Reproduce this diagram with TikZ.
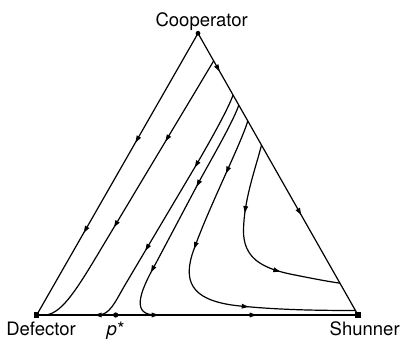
\documentclass[tikz,border=0pt]{standalone}
\usepackage{fontspec}
\setmainfont{TeX Gyre Heros}
\usetikzlibrary{arrows.meta,calc,decorations.markings}
\tikzset{
  flow/.style={postaction={decorate,decoration={markings,
    mark=at position #1 with {\arrow{Triangle[length=7pt,width=4.6pt]}}}}},
  vname/.style={anchor=base,inner sep=0pt,font=\fontsize{18.5}{20}\selectfont},
}
\begin{document}
\begin{tikzpicture}[x=1pt,y=-1pt,line width=1.2pt,line join=round]
\useasboundingbox (0,0) rectangle (401,339);
\coordinate (coop) at (198,33.3);
\coordinate (defect) at (36.7,315);
\coordinate (shun) at (358,315);
\coordinate (pstar) at (115.7,315);
\foreach \n/\t in {a0/.098,b0/.219,c0/.255,d0/.311,e0/.397,e1/.887,d1/.984}
  \coordinate (\n) at ($(coop)!\t!(shun)$);
\draw[flow=126pt,flow=230pt] (coop) -- (defect);
\draw[flow=44pt,flow=209pt] (coop) -- (shun);
\draw[flow=21pt] (pstar) -- (defect);
\draw[flow=43pt,flow=141pt] (pstar) -- (shun);
\draw[flow=94pt,flow=194pt] (a0) -- (98,254) .. controls (74,294) and (60,315) .. (44,315);
\draw[flow=82pt,flow=179pt] (b0) .. controls (228,110) and (205,150) .. (195,167)
  -- (125,285) .. controls (115,302) and (110,315) .. (98,315);
\draw[flow=92pt,flow=189pt] (c0) .. controls (233,122) and (212,158) .. (200,180)
  -- (156,263) .. controls (138,295) and (132,315) .. (156,315);
\draw[flow=57pt,flow=139pt,flow=239pt] (d0) .. controls (242,142) and (205,215) .. (192,255)
  .. controls (183,285) and (195,301.5) .. (240,306) .. controls (280,310) and (320,310.5) .. (d1);
\draw[flow=70pt,flow=148pt] (e0) .. controls (255,170) and (244,200) .. (243.5,230)
  .. controls (243,258) and (262,268) .. (290,274) .. controls (310,278) and (325,281) .. (e1);
\fill (coop) circle (2.4);
\fill (pstar) circle (2.6);
\fill ($(defect)+(-2.7,-2.7)$) rectangle ++(5.4,5.4);
\fill ($(shun)+(-2.7,-2.7)$) rectangle ++(5.4,5.4);
\node[vname] (coopname) at (201.7,26.7) {Cooperator};
\node[vname] (defectname) at (41,335) {Defector};
\node[vname] (pstarname) at (115.5,335) {\textit{p}\kern0.5pt*};
\node[vname] (shunname) at (364.7,335) {Shunner};
\end{tikzpicture}
\end{document}
